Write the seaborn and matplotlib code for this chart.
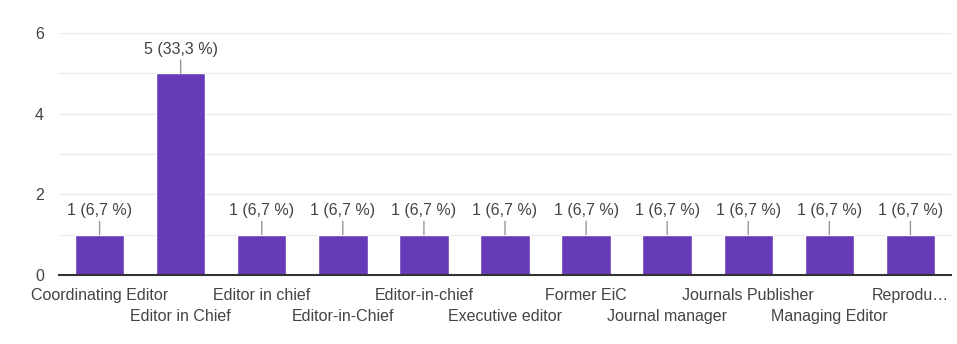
import matplotlib
matplotlib.use("Agg")
import matplotlib.pyplot as plt
import matplotlib.transforms as mtransforms
import seaborn as sns
import pandas as pd
from matplotlib.ticker import MultipleLocator

roles = ["Coordinating Editor", "Editor in Chief", "Editor in chief", "Editor-in-Chief",
         "Editor-in-chief", "Executive editor", "Former EiC", "Journal manager",
         "Journals Publisher", "Managing Editor", "Reprodu\u2026"]
counts = [1, 5, 1, 1, 1, 1, 1, 1, 1, 1, 1]
labels = ["1 (6,7 %)", "5 (33,3 %)", "1 (6,7 %)", "1 (6,7 %)", "1 (6,7 %)", "1 (6,7 %)",
          "1 (6,7 %)", "1 (6,7 %)", "1 (6,7 %)", "1 (6,7 %)", "1 (6,7 %)"]

df = pd.DataFrame({"role": roles, "count": counts})

sns.set_style("white")
plt.rcParams['font.family'] = ['Liberation Sans', 'DejaVu Sans']

fig = plt.figure(figsize=(9.57, 3.44), dpi=100)
ax = fig.add_axes([0.0617, 0.2006, 0.932, 0.7034])

sns.barplot(data=df, x="role", y="count", color="#673ab7", saturation=1, width=0.61, ax=ax)

ax.set_ylim(0, 6)
ax.yaxis.set_major_locator(MultipleLocator(2))
ax.yaxis.set_minor_locator(MultipleLocator(1))
ax.grid(axis="y", which="both", color="#ebebeb", linewidth=1)
ax.set_axisbelow(True)
for s in ["top", "right", "left"]:
    ax.spines[s].set_visible(False)
ax.spines["bottom"].set_color("#333333")
ax.spines["bottom"].set_linewidth(1.5)
ax.set_xlabel("")
ax.set_ylabel("")

ax.tick_params(axis="y", which="both", length=0, pad=11, labelsize=11.5, labelcolor="#444444")
ax.tick_params(axis="x", length=0, pad=9.5, labelsize=11.5, labelcolor="#444444")
ax.set_xticks(range(len(roles)))
ax.set_xticklabels(roles)
# every second label goes one row lower, like google forms does
shift = mtransforms.ScaledTranslation(0, -0.21, fig.dpi_scale_trans)
for i, t in enumerate(ax.get_xticklabels()):
    if i % 2 == 1:
        t.set_transform(t.get_transform() + shift)

for i, (v, lab) in enumerate(zip(counts, labels)):
    ax.annotate(lab, xy=(i, v), xytext=(0, 12), textcoords="offset points",
                ha="center", va="bottom", fontsize=11.5, color="#444444",
                arrowprops=dict(arrowstyle="-", color="#999999", lw=1,
                                shrinkA=0, shrinkB=0))

fig.savefig("out.png", dpi=100)
